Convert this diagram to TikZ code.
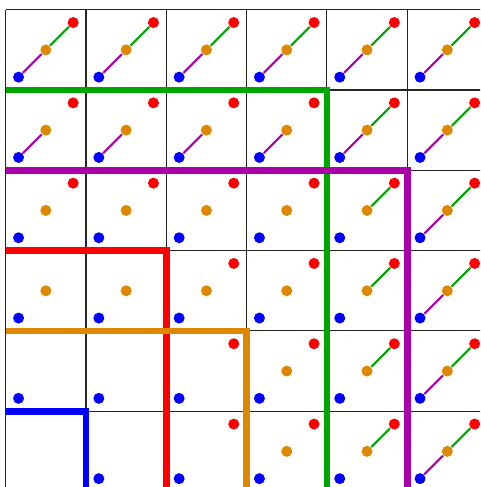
\documentclass[tikz,border=0pt]{standalone}
\usepackage{xcolor}

\definecolor{dotblue}{RGB}{0,0,255}
\definecolor{dotorange}{RGB}{221,136,0}
\definecolor{dotred}{RGB}{255,0,0}
\definecolor{linegreen}{RGB}{0,166,0}
\definecolor{linepurple}{RGB}{170,0,170}

\begin{document}
\begin{tikzpicture}[
  dotnode/.style={circle,fill=#1,inner sep=0pt,minimum size=0.137cm},
  link/.style={line width=0.75pt,#1},
  wall/.style={line width=2.4pt,#1}
]
\useasboundingbox (-0.071,0.121) rectangle (5.907,-5.944);
\clip (-0.071,0.121) rectangle (5.907,-5.944);

% grid of cells
\draw[line width=0.4pt,black!85] (0,-6) grid (6,0);

% three dots in each cell, links where present
\foreach \row in {1,...,6} {
  \foreach \col in {1,...,6} {
    \pgfmathtruncatemacro\hasblue{(\row==6 && \col==1) ? 0 : 1}
    \pgfmathtruncatemacro\hasorange{(\row>=5 && \col<=3) ? 0 : 1}
    \pgfmathtruncatemacro\hasred{(\row>=4 && \col<=2) ? 0 : 1}
    \pgfmathtruncatemacro\haspurple{(\row<=2 || \col==6) ? 1 : 0}
    \pgfmathtruncatemacro\hasgreen{(\row==1 || \col>=5) ? 1 : 0}
    \ifnum\hasblue=1
      \node[dotnode=dotblue] (b-\row-\col) at (\col-0.84,0.16-\row) {};
    \fi
    \ifnum\hasorange=1
      \node[dotnode=dotorange] (o-\row-\col) at (\col-0.5,0.5-\row) {};
    \fi
    \ifnum\hasred=1
      \node[dotnode=dotred] (r-\row-\col) at (\col-0.16,0.84-\row) {};
    \fi
    \ifnum\haspurple=1
      \draw[link=linepurple] (b-\row-\col) -- (o-\row-\col);
    \fi
    \ifnum\hasgreen=1
      \draw[link=linegreen] (o-\row-\col) -- (r-\row-\col);
    \fi
  }
}

% boundaries
\draw[wall=linegreen] (0,-1) -- (4,-1) -- (4,-6.3);
\draw[wall=linepurple] (0,-2) -- (5,-2) -- (5,-6.3);
\draw[wall=dotred] (0,-3) -- (2,-3) -- (2,-6.3);
\draw[wall=dotorange] (0,-4) -- (3,-4) -- (3,-6.3);
\draw[wall=dotblue] (0,-5) -- (1,-5) -- (1,-6.3);

\end{tikzpicture}
\end{document}
